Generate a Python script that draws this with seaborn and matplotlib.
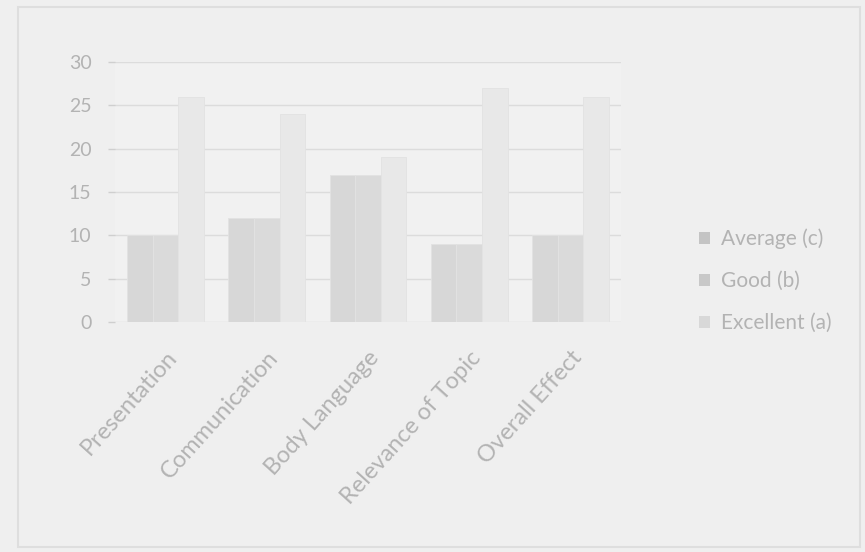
import matplotlib.pyplot as plt
import matplotlib.patches as mpatches
import numpy as np
import pandas as pd
import seaborn as sns

# data
criteria = ["Presentation", "Communication", "Body Language", "Relevance of Topic", "Overall Effect"]
series_names = ["Average (c)", "Good (b)", "Excellent (a)"]
average = [10, 12, 17, 9, 10]
good = [10, 12, 17, 9, 10]
excellent = [26, 24, 19, 27, 26]
yticks = [0, 5, 10, 15, 20, 25, 30]

df = pd.DataFrame({
    "criterion": criteria * 3,
    "series": [series_names[0]] * 5 + [series_names[1]] * 5 + [series_names[2]] * 5,
    "count": average + good + excellent,
})

sns.set_theme(style="white")
plt.rcParams["font.family"] = ["Lato", "DejaVu Sans"]

text_col = "#b3b3b3"
palette = {"Average (c)": "#d7d7d7", "Good (b)": "#dadada", "Excellent (a)": "#e8e8e8"}

fig = plt.figure(figsize=(8.65, 5.52), dpi=100)
fig.patch.set_facecolor("#efefef")

# faint slide frame
frame = mpatches.Rectangle((18 / 865, 5 / 552), 842 / 865, 540 / 552, transform=fig.transFigure,
                           fill=False, edgecolor="#dedede", lw=1.5)
fig.patches.append(frame)

ax = fig.add_axes([115 / 865, 1 - 322 / 552, 506 / 865, 260 / 552])
ax.set_facecolor("#f1f1f1")

sns.barplot(data=df, x="criterion", y="count", hue="series", hue_order=series_names,
            palette=palette, width=0.76, saturation=1, gap=0, ax=ax, legend=False,
            edgecolor="#e2e2e2", linewidth=0.6)

ax.set_xlim(-0.5, 4.5)
ax.set_ylim(0, 30)
ax.set_yticks(yticks)
ax.yaxis.grid(True, color="#dcdcdc", lw=1)
ax.set_axisbelow(True)
for s in ax.spines.values():
    s.set_visible(False)
ax.tick_params(axis="y", colors="#cfcfcf", labelcolor=text_col, labelsize=14, length=5, width=1,
               left=True, pad=12)
ax.tick_params(axis="x", labelcolor=text_col, labelsize=17, length=0, pad=18)
ax.set_xticks(range(len(criteria)))
ax.set_xticklabels(criteria, rotation=48, ha="right", rotation_mode="anchor")
ax.set_xlabel("")
ax.set_ylabel("")

handles = [mpatches.Patch(facecolor=c, edgecolor="none") for c in ["#c4c4c4", "#c8c8c8", "#d8d8d8"]]
leg = fig.legend(handles, series_names, loc="center left", bbox_to_anchor=(680 / 865, 1 - 281 / 552),
                 frameon=False, fontsize=15, labelspacing=1.05, handlelength=0.55, handleheight=0.55,
                 handletextpad=0.5)
for t in leg.get_texts():
    t.set_color(text_col)

fig.savefig("out.png", dpi=100, facecolor=fig.get_facecolor())
